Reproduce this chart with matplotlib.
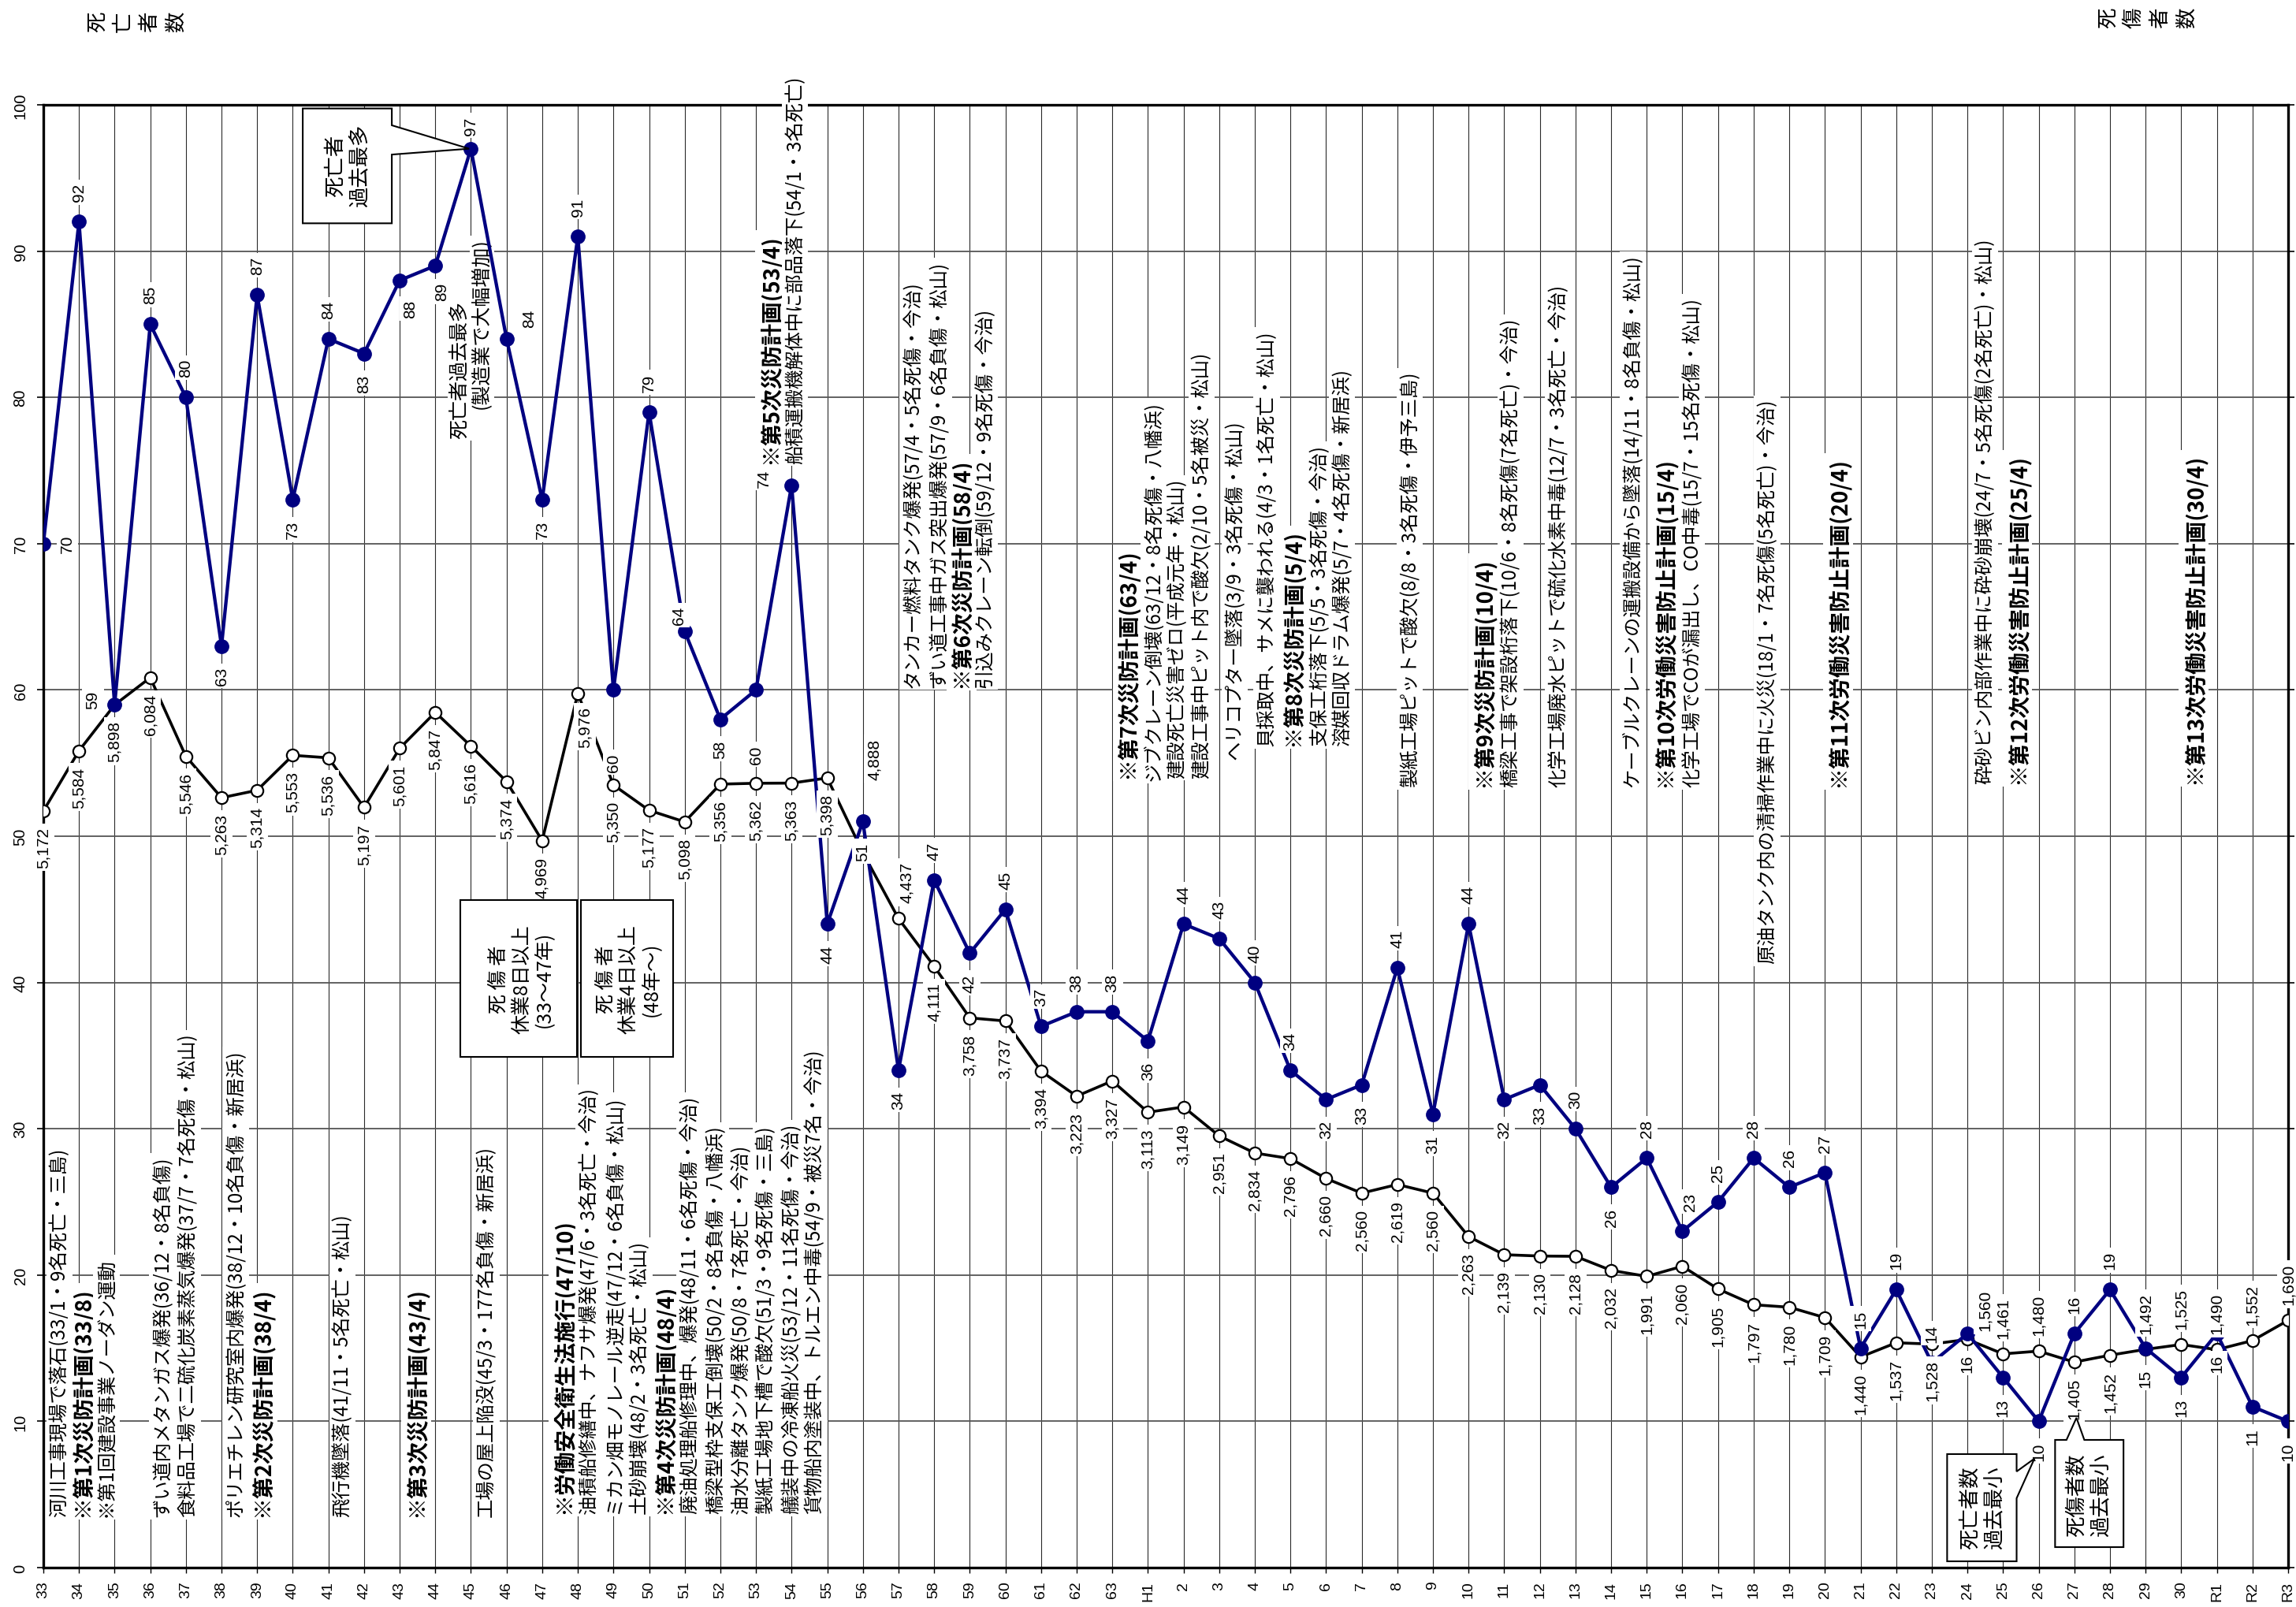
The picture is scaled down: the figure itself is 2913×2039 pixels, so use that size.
import matplotlib
matplotlib.use("Agg")
import matplotlib.pyplot as plt
from matplotlib.patches import Polygon, Rectangle
from matplotlib.transforms import Affine2D
import numpy as np

# ---------------- data ----------------
years = ['33', '34', '35', '36', '37', '38', '39', '40', '41', '42',
         '43', '44', '45', '46', '47', '48', '49', '50', '51', '52',
         '53', '54', '55', '56', '57', '58', '59', '60', '61', '62',
         '63', 'H1', '2', '3', '4', '5', '6', '7', '8', '9',
         '10', '11', '12', '13', '14', '15', '16', '17', '18', '19',
         '20', '21', '22', '23', '24', '25', '26', '27', '28', '29',
         '30', 'R1', 'R2', 'R3']

deaths = [70, 92, 59, 85, 80, 63, 87, 73, 84, 83,
          88, 89, 97, 84, 73, 91, 60, 79, 64, 58,
          60, 74, 44, 51, 34, 47, 42, 45, 37, 38,
          38, 36, 44, 43, 40, 34, 32, 33, 41, 31,
          44, 32, 33, 30, 26, 28, 23, 25, 28, 26,
          27, 15, 19, 14, 16, 13, 10, 16, 19, 15,
          13, 16, 11, 10]

casualties = [5172, 5584, 5898, 6084, 5546, 5263, 5314, 5553, 5536, 5197,
              5601, 5847, 5616, 5374, 4969, 5976, 5350, 5177, 5098, 5356,
              5362, 5363, 5398, 4888, 4437, 4111, 3758, 3737, 3394, 3223,
              3327, 3113, 3149, 2951, 2834, 2796, 2660, 2560, 2619, 2560,
              2263, 2139, 2130, 2128, 2032, 1991, 2060, 1905, 1797, 1780,
              1709, 1440, 1537, 1528, 1560, 1461, 1480, 1405, 1452, 1492,
              1525, 1490, 1552, 1690]

# label placement (a=above, b=below, l=left, r=right)
death_pos = ['r', 'a', 'l', 'a', 'a', 'b', 'a', 'b', 'a', 'b',
             'b', 'b', 'a', 'a', 'b', 'a', 'b', 'a', 'a', 'b',
             'b', 'l', 'b', 'b', 'b', 'a', 'b', 'a', 'a', 'a',
             'a', 'b', 'a', 'a', 'a', 'a', 'b', 'b', 'a', 'b',
             'a', 'b', 'b', 'a', 'b', 'a', 'a', 'a', 'a', 'a',
             'a', 'a', 'a', 'a', 'b', 'b', 'b', 'a', 'a', 'b',
             'b', 'b', 'b', 'b']
cas_pos = ['b'] * 23 + ['a', 'a'] + ['b'] * 29 + \
          ['a', 'a', 'a', 'b', 'b', 'a', 'a', 'a', 'a', 'a']

death_adj = {0: dict(gap=21), 2: dict(gap=18, dy=7), 10: dict(dx=14, gap=24),
             11: dict(dx=8, gap=21), 12: dict(gap=18), 13: dict(dx=29, gap=15),
             16: dict(gap=80), 18: dict(gap=9, dx=-7), 20: dict(gap=70),
             21: dict(gap=25, dy=9), 46: dict(dx=10)}
cas_adj = {15: dict(dx=9, gap=16), 23: dict(dx=15, gap=93), 24: dict(dx=11),
           54: dict(dx=22, gap=11)}

# annotations: (x position, bottom y, text, bold)
notes = [
    (0.46, 3.5, "河川工事現場で落石(33/1・9名死亡・三島)", False),
    (1.10, 3.5, "※第1次災防計画(33/8)", True),
    (1.77, 3.5, "※第1回建設事業ノーダン運動", False),
    (3.34, 3.5, "ずい道内メタンガス爆発(36/12・8名負傷)", False),
    (4.05, 3.5, "食料品工場で二硫化炭素蒸気爆発(37/7・7名死傷・松山)", False),
    (5.40, 3.5, "ポリエチレン研究室内爆発(38/12・10名負傷・新居浜)", False),
    (6.14, 3.5, "※第2次災防計画(38/4)", True),
    (8.40, 3.5, "飛行機墜落(41/11・5名死亡・松山)", False),
    (10.47, 3.5, "※第3次災防計画(43/4)", True),
    (12.43, 3.5, "工場の屋上陥没(45/3・177名負傷・新居浜)", False),
    (14.60, 3.7, "※労働安全衛生法施行(47/10)", True),
    (15.30, 3.7, "油積船修繕中、ナフサ爆発(47/6・3名死亡・今治)", False),
    (16.02, 3.7, "ミカン畑モノレール逆走(47/12・6名負傷・松山)", False),
    (16.73, 3.7, "土砂崩壊(48/2・3名死亡・松山)", False),
    (17.45, 3.7, "※第4次災防計画(48/4)", True),
    (18.14, 3.7, "廃油処理船修理中、爆発(48/11・6名死傷・今治)", False),
    (18.87, 3.7, "橋梁型枠支保工倒壊(50/2・8名負傷・八幡浜)", False),
    (19.58, 3.7, "油水分離タンク爆発(50/8・7名死亡・今治)", False),
    (20.27, 3.7, "製紙工場地下槽で酸欠(51/3・9名死傷・三島)", False),
    (21.00, 3.7, "艤装中の冷凍船火災(53/12・11名死傷・今治)", False),
    (21.65, 3.7, "貨物船内塗装中、トルエン中毒(54/9・被災7名・今治)", False),
    (20.40, 75.5, "※第5次災防計画(53/4)", True),
    (21.10, 75.5, "船積運搬機解体中に部品落下(54/1・3名死亡)", False),
    (24.40, 60.2, "タンカー燃料タンク爆発(57/4・5名死傷・今治)", False),
    (25.13, 60.2, "ずい道工事中ガス突出爆発(57/9・6名負傷・松山)", False),
    (25.77, 60.2, "※第6次災防計画(58/4)", True),
    (26.42, 60.2, "引込みクレーン転倒(59/12・9名死傷・今治)", False),
    (30.43, 54.0, "※第7次災防計画(63/4)", True),
    (31.17, 53.8, "ジブクレーン倒壊(63/12・8名死傷・八幡浜)", False),
    (31.81, 54.0, "建設死亡災害ゼロ(平成元年・松山)", False),
    (32.50, 54.0, "建設工事中ピット内で酸欠(2/10・5名被災・松山)", False),
    (33.44, 55.3, "ヘリコプター墜落(3/9・3名死傷・松山)", False),
    (34.33, 56.2, "貝採取中、サメに襲われる(4/3・1名死亡・松山)", False),
    (35.07, 56.2, "※第8次災防計画(5/4)", True),
    (35.81, 56.2, "支保工桁落下(5/5・3名死傷・今治)", False),
    (36.45, 56.2, "溶媒回収ドラム爆発(5/7・4名死傷・新居浜)", False),
    (38.35, 53.4, "製紙工場ピットで酸欠(8/8・3名死傷・伊予三島)", False),
    (40.42, 53.4, "※第9次災防計画(10/4)", True),
    (41.18, 53.4, "橋梁工事で架設桁落下(10/6・8名死傷(7名死亡)・今治)", False),
    (42.50, 53.4, "化学工場廃水ピットで硫化水素中毒(12/7・3名死亡・今治)", False),
    (44.60, 53.4, "ケーブルクレーンの運搬設備から墜落(14/11・8名負傷・松山)", False),
    (45.50, 53.4, "※第10次労働災害防止計画(15/4)", True),
    (46.26, 53.4, "化学工場でCOが漏出し、CO中毒(15/7・15名死傷・松山)", False),
    (48.38, 41.3, "原油タンク内の清掃作業中に火災(18/1・7名死傷(5名死亡)・今治)", False),
    (50.37, 53.4, "※第11次労働災害防止計画(20/4)", True),
    (54.50, 53.6, "砕砂ビン内部作業中に砕砂崩壊(24/7・5名死傷(2名死亡)・松山)", False),
    (55.40, 53.6, "※第12次労働災害防止計画(25/4)", True),
    (60.35, 53.6, "※第13次労働災害防止計画(30/4)", True),
]

# ---------------- figure ----------------
W, H = 2913, 2040
fig = plt.figure(figsize=(W / 100, H / 100), dpi=100)
ax = fig.add_axes([55 / W, 1 - 1990 / H, (2903 - 55) / W, (1990 - 134) / H])
CJK = ['Noto Sans CJK JP', 'DejaVu Sans']
NUM = ['Liberation Sans', 'DejaVu Sans']
NAVY = '#000080'

x = np.arange(len(years))
ax.set_xlim(0, len(years) - 1)
ax.set_ylim(0, 100)
ax.set_xticks(x)
ax.set_xticklabels(years, rotation=90, fontsize=14, family=NUM)
ax.set_yticks(np.arange(0, 101, 10))
ax.set_yticklabels([str(v) for v in range(0, 101, 10)], rotation=90,
                   va='center', fontsize=14.5, family=NUM)
ax.tick_params(axis='x', direction='out', length=5, width=1.0, pad=7)
ax.tick_params(axis='y', direction='out', length=6, width=1.2, pad=8,
               left=True, right=True)
ax.set_axisbelow(True)
ax.grid(axis='x', color='#2a2a2a', lw=0.8)
ax.grid(axis='y', color='#555555', lw=1.3)
for s in ax.spines.values():
    s.set_linewidth(2.4)
    s.set_zorder(2.5)

cas_tr = Affine2D().scale(1, 0.01) + ax.transData
ax.plot(x, casualties, transform=cas_tr, color='black', lw=2.6, marker='o',
        ms=11, mfc='white', mec='black', mew=1.6, zorder=3)
ax.plot(x, deaths, color=NAVY, lw=3.1, marker='o', ms=12.5, mfc=NAVY,
        mec=NAVY, zorder=4)

PX = 0.72  # pixels -> points


def put_label(xv, yv, text, pos, gap, dx=0, dy=0, coords='data'):
    g = gap * PX
    dx *= PX
    dy *= PX
    if pos == 'a':
        off, ha, va = (dx, g + dy), 'center', 'bottom'
    elif pos == 'b':
        off, ha, va = (dx, -g + dy), 'center', 'top'
    elif pos == 'l':
        off, ha, va = (-g + dx, dy), 'right', 'center'
    else:
        off, ha, va = (g + dx, dy), 'left', 'center'
    ax.annotate(text, (xv, yv), xycoords=coords, xytext=off,
                textcoords='offset points', rotation=90, ha=ha, va=va,
                fontsize=15, family=NUM, zorder=6,
                bbox=dict(boxstyle='square,pad=0.2', fc='white', ec='none'))


for i, v in enumerate(deaths):
    a = death_adj.get(i, {})
    dflt = 20 if death_pos[i] in 'lr' else 26
    put_label(i, v, str(v), death_pos[i], a.get('gap', dflt),
              a.get('dx', 0), a.get('dy', 0))

for i, v in enumerate(casualties):
    a = cas_adj.get(i, {})
    put_label(i, v, f"{v:,}", cas_pos[i], a.get('gap', 20),
              a.get('dx', 0), a.get('dy', 0), coords=cas_tr)

# event annotations
for xv, yb, s, bold in notes:
    ax.text(xv, yb, s, rotation=90, ha='center', va='bottom',
            fontsize=20 if bold else 17.5, family=CJK,
            fontweight='bold' if bold else 'normal', zorder=2.7,
            bbox=dict(boxstyle='square,pad=0.15', fc='white', ec='none'))

ax.text(11.68, 81.9, "死亡者過去最多", rotation=90, ha='center', va='center',
        fontsize=18, family=CJK, zorder=2.7,
        bbox=dict(boxstyle='square,pad=0.1', fc='white', ec='none'))
ax.text(12.30, 85.1, "(製造業で大幅増加)", rotation=90, ha='center', va='center',
        fontsize=18, family=CJK, zorder=2.7,
        bbox=dict(boxstyle='square,pad=0.1', fc='white', ec='none'))

# callout boxes
def callout(verts):
    ax.add_patch(Polygon(verts, closed=True, fc='white', ec='black', lw=1.5,
                         zorder=7, clip_on=False))


callout([(7.28, 91.9), (7.28, 99.75), (9.78, 99.75), (9.78, 98.6),
         (11.95, 97.0), (9.78, 96.6), (9.78, 91.9)])
ax.text(8.53, 95.9, "死亡者\n過去最多", rotation=90, ha='center', va='center',
        fontsize=19, family=CJK, zorder=8, multialignment='center')

callout([(53.43, 0.43), (53.43, 7.76), (55.38, 7.76), (55.38, 6.57),
         (55.88, 7.45), (55.38, 4.74), (55.38, 0.43)])
ax.text(54.42, 4.15, "死亡者数\n過去最小", rotation=90, ha='center', va='center',
        fontsize=19, family=CJK, zorder=8, multialignment='center')

callout([(56.46, 1.4), (56.46, 8.73), (56.78, 8.73), (57.06, 10.24),
         (57.28, 8.73), (58.38, 8.73), (58.38, 1.4)])
ax.text(57.41, 5.0, "死傷者数\n過去最小", rotation=90, ha='center', va='center',
        fontsize=19, family=CJK, zorder=8, multialignment='center')

for x0, x1, s, cx in [(11.70, 14.98, "死 傷 者\n休業8日以上\n(33～47年)", 13.43),
                      (15.09, 17.68, "死 傷 者\n休業4日以上\n(48年～)", 16.43)]:
    ax.add_patch(Rectangle((x0, 34.91), x1 - x0, 45.64 - 34.91, fc='white',
                           ec='black', lw=1.5, zorder=7))
    ax.text(cx, 40.25, s, rotation=90, ha='center', va='center', fontsize=18,
            family=CJK, zorder=8, multialignment='center', linespacing=1.15)

# axis titles
fig.text(173 / W, 1 - 28 / H, "死\n亡\n者\n数", rotation=90, ha='center',
         va='center', fontsize=19, family=CJK, linespacing=1.3)
fig.text(2724 / W, 1 - 23 / H, "死\n傷\n者\n数", rotation=90, ha='center',
         va='center', fontsize=19, family=CJK, linespacing=1.3)

fig.savefig("out.png", dpi=100, facecolor='white')
